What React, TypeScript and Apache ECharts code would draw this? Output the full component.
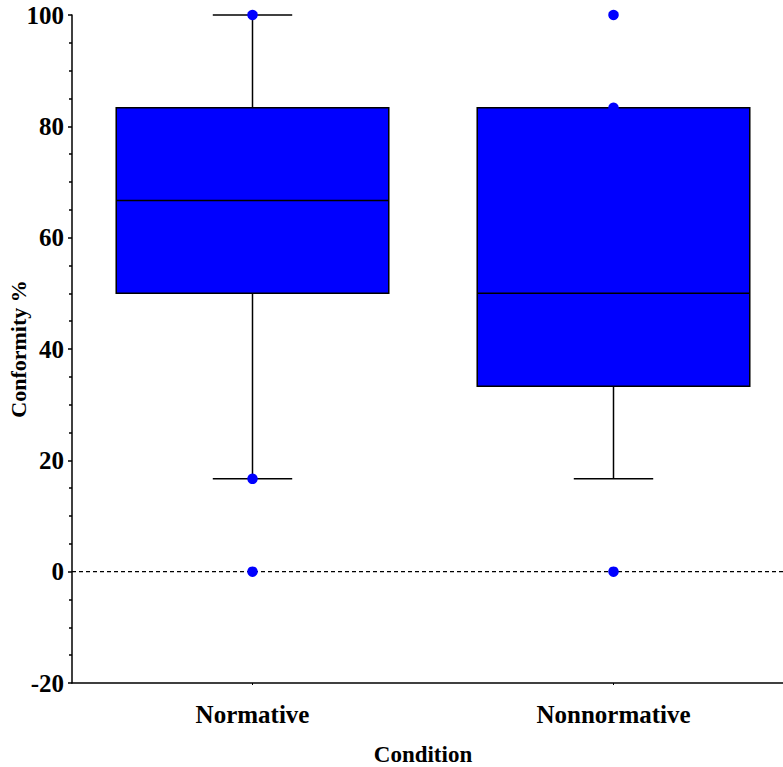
import React, { useEffect, useRef } from "react";
import * as echarts from "echarts";

const categories = ["Normative", "Nonnormative"];
// [low whisker, Q1, median, Q3, high whisker]
const boxStats = [
  [16.67, 50, 66.67, 83.33, 100],
  [16.67, 33.33, 50, 83.33, 83.33],
];
// individual points drawn as dots: [categoryIndex, value]
const dotPoints = [
  [0, 100],
  [0, 16.67],
  [0, 0],
  [1, 100],
  [1, 83.33],
  [1, 0],
];
const refLineValue = 0;
const yTicks = { min: -20, max: 100, interval: 20 };

const FONT = "'Liberation Serif', 'Times New Roman', serif";

export default function App() {
  const ref = useRef<HTMLDivElement>(null);
  useEffect(() => {
    document.body.style.margin = "0";
    const chart = echarts.init(ref.current!, null, { renderer: "svg" });
    const boxData = boxStats.map((s, i) => [i, ...s]);
    chart.setOption({
      animation: false,
      backgroundColor: "#ffffff",
      grid: {
        left: 72,
        top: 15,
        width: 722,
        height: 668,
        containLabel: false,
        outerBoundsMode: "none",
      },
      xAxis: {
        type: "category",
        data: categories,
        boundaryGap: true,
        name: "Condition",
        nameLocation: "middle",
        nameGap: 60,
        nameMoveOverlap: false,
        nameTextStyle: {
          fontFamily: FONT,
          fontWeight: "bold",
          fontSize: 23,
          color: "#000",
          padding: [0, 20, 0, 0],
        },
        axisLine: { onZero: false, lineStyle: { color: "#000", width: 1.5 } },
        axisTick: { show: true, alignWithLabel: true, length: 2, lineStyle: { color: "#000" } },
        axisLabel: {
          fontFamily: FONT,
          fontWeight: "bold",
          fontSize: 25,
          color: "#000",
          margin: 19,
        },
        splitLine: { show: false },
      },
      yAxis: {
        type: "value",
        min: yTicks.min,
        max: yTicks.max,
        interval: yTicks.interval,
        name: "Conformity %",
        nameLocation: "middle",
        nameGap: 43,
        nameMoveOverlap: false,
        nameTextStyle: {
          fontFamily: FONT,
          fontWeight: "bold",
          fontSize: 22,
          color: "#000",
        },
        axisLine: { show: true, onZero: false, lineStyle: { color: "#000", width: 1.5 } },
        axisTick: { show: true, length: 4, lineStyle: { color: "#000", width: 1.5 } },
        minorTick: { show: true, splitNumber: 4, length: 3, lineStyle: { color: "#000", width: 1.5 } },
        axisLabel: {
          fontFamily: FONT,
          fontWeight: "bold",
          fontSize: 25,
          color: "#000",
          margin: 8,
        },
        splitLine: { show: false },
      },
      series: [
        {
          type: "custom",
          data: boxData,
          encode: { x: 0, y: [1, 2, 3, 4, 5] },
          renderItem: (params: any, api: any) => {
            const idx = api.value(0);
            const low = api.value(1);
            const q1 = api.value(2);
            const med = api.value(3);
            const q3 = api.value(4);
            const high = api.value(5);
            const band = api.size([1, 0])[0];
            const bw = band * 0.755;
            const cw = band * 0.22;
            const pLow = api.coord([idx, low]);
            const pQ1 = api.coord([idx, q1]);
            const pMed = api.coord([idx, med]);
            const pQ3 = api.coord([idx, q3]);
            const pHigh = api.coord([idx, high]);
            const cx = pMed[0];
            const lineStyle = { stroke: "#000", lineWidth: 1.5 };
            const children: any[] = [];
            if (high > q3) {
              children.push({
                type: "line",
                shape: { x1: cx, y1: pQ3[1], x2: cx, y2: pHigh[1] },
                style: lineStyle,
              });
              children.push({
                type: "line",
                shape: { x1: cx - cw / 2, y1: pHigh[1], x2: cx + cw / 2, y2: pHigh[1] },
                style: lineStyle,
              });
            }
            if (low < q1) {
              children.push({
                type: "line",
                shape: { x1: cx, y1: pQ1[1], x2: cx, y2: pLow[1] },
                style: lineStyle,
              });
              children.push({
                type: "line",
                shape: { x1: cx - cw / 2, y1: pLow[1], x2: cx + cw / 2, y2: pLow[1] },
                style: lineStyle,
              });
            }
            children.push({
              type: "rect",
              shape: { x: cx - bw / 2, y: pQ3[1], width: bw, height: pQ1[1] - pQ3[1] },
              style: { fill: "#0000ff", stroke: "#000", lineWidth: 1.5 },
            });
            children.push({
              type: "line",
              shape: { x1: cx - bw / 2, y1: pMed[1], x2: cx + bw / 2, y2: pMed[1] },
              style: lineStyle,
            });
            return { type: "group", children };
          },
          z: 2,
        },
        {
          type: "custom",
          data: [[refLineValue]],
          encode: { y: 0 },
          renderItem: (params: any, api: any) => {
            const p = api.coord([0, api.value(0)]);
            const cs = params.coordSys;
            return {
              type: "line",
              shape: { x1: cs.x, y1: p[1], x2: cs.x + cs.width, y2: p[1] },
              style: { stroke: "#000", lineWidth: 1.3, lineDash: [4, 3], fill: null },
            };
          },
          z: 1,
        },
        {
          type: "scatter",
          data: dotPoints,
          symbol: "circle",
          symbolSize: 10.5,
          itemStyle: { color: "#0000ff", opacity: 1 },
          z: 5,
        },
      ],
    });
    return () => chart.dispose();
  }, []);
  return <div ref={ref} style={{ width: 783, height: 767 }} />;
}
